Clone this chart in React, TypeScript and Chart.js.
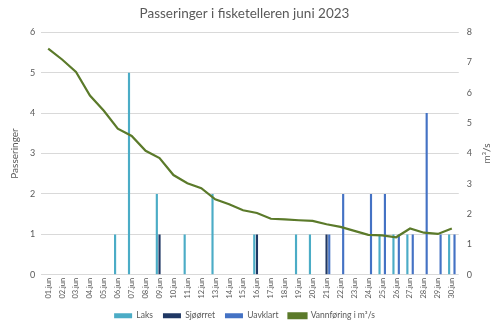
import React, { useEffect, useRef } from "react";
import { Chart, registerables } from "chart.js";

Chart.register(...registerables);

const days: string[] = [
  "01.jun","02.jun","03.jun","04.jun","05.jun","06.jun","07.jun","08.jun","09.jun","10.jun",
  "11.jun","12.jun","13.jun","14.jun","15.jun","16.jun","17.jun","18.jun","19.jun","20.jun",
  "21.jun","22.jun","23.jun","24.jun","25.jun","26.jun","27.jun","28.jun","29.jun","30.jun",
];
const laks: number[] = [0,0,0,0,0,1,5,0,2,0, 1,0,2,0,0,1,0,0,1,1, 0,0,0,0,1,1,1,0,0,1];
const sjoorret: number[] = [0,0,0,0,0,0,0,0,1,0, 0,0,0,0,0,1,0,0,0,0, 1,0,0,0,0,0,0,0,0,0];
const uavklart: number[] = [0,0,0,0,0,0,0,0,0,0, 0,0,0,0,0,0,0,0,0,0, 1,2,0,2,2,1,1,4,1,1];
const vannforing: number[] = [
  7.46,7.1,6.69,5.91,5.41,4.82,4.58,4.09,3.85,3.29,
  3.02,2.86,2.49,2.33,2.13,2.04,1.85,1.83,1.8,1.78,
  1.67,1.58,1.45,1.32,1.3,1.24,1.53,1.39,1.35,1.53,
];
const leftTicks: number[] = [0, 1, 2, 3, 4, 5, 6];
const rightTicks: number[] = [0, 1, 2, 3, 4, 5, 6, 7, 8];

const FONT = "Lato, 'Open Sans', sans-serif";
const GREY = "#595959";

const rightTitle = {
  id: "rightTitle",
  afterDraw(chart: any) {
    const ctx = chart.ctx;
    const area = chart.chartArea;
    ctx.save();
    ctx.translate(487, (area.top + area.bottom) / 2);
    ctx.rotate(-Math.PI / 2);
    ctx.fillStyle = GREY;
    ctx.font = `10px ${FONT}`;
    ctx.textAlign = "center";
    ctx.textBaseline = "middle";
    ctx.fillText("m³/s", 0, 0);
    ctx.restore();
  },
};

export default function App() {
  const ref = useRef<HTMLCanvasElement | null>(null);
  useEffect(() => {
    document.body.style.margin = "0";
    if (!ref.current) return;
    const chart = new Chart(ref.current, {
      type: "bar",
      data: {
        labels: days,
        datasets: [
          { type: "bar", label: "Laks", data: laks, backgroundColor: "#4bacc6", yAxisID: "y", order: 1, barPercentage: 0.8, categoryPercentage: 0.58 },
          { type: "bar", label: "Sjøørret", data: sjoorret, backgroundColor: "#203864", yAxisID: "y", order: 1, barPercentage: 0.8, categoryPercentage: 0.58 },
          { type: "bar", label: "Uavklart", data: uavklart, backgroundColor: "#4472c4", yAxisID: "y", order: 1, barPercentage: 0.8, categoryPercentage: 0.58 },
          { type: "line", label: "Vannføring i m³/s", data: vannforing, borderColor: "#5b7a2a", backgroundColor: "#5b7a2a", borderWidth: 2.2, pointRadius: 0, tension: 0, yAxisID: "y2", order: 0 },
        ] as any,
      },
      options: {
        animation: false,
        responsive: false,
        maintainAspectRatio: false,
        layout: { padding: { left: 9, right: 20, top: 4, bottom: -4 } },
        plugins: {
          title: {
            display: true,
            text: "Passeringer i fisketelleren juni 2023",
            color: GREY,
            font: { family: FONT, size: 13.5, weight: "normal" },
            padding: { top: 2, bottom: 10 },
          },
          legend: {
            position: "bottom",
            labels: {
              color: GREY,
              font: { family: FONT, size: 8.5 },
              boxWidth: 18,
              boxHeight: 5,
              padding: 10,
              sort: (a: any, b: any) => a.datasetIndex - b.datasetIndex,
            },
          },
          tooltip: { enabled: false },
        },
        scales: {
          x: {
            grid: { display: false, drawTicks: false },
            border: { display: false },
            ticks: { color: GREY, font: { family: FONT, size: 7.5 }, minRotation: 90, maxRotation: 90, autoSkip: false, padding: 3 },
          },
          y: {
            position: "left",
            min: 0,
            max: 6,
            afterBuildTicks: (axis: any) => { axis.ticks = leftTicks.map((v) => ({ value: v })); },
            grid: { color: "#d9d9d9", drawTicks: false },
            border: { display: false },
            ticks: { color: GREY, font: { family: FONT, size: 9 }, padding: 6 },
            title: { display: true, text: "Passeringer", color: GREY, font: { family: FONT, size: 10 }, padding: { top: 0, bottom: 3 } },
          },
          y2: {
            position: "right",
            min: 0,
            max: 8,
            afterBuildTicks: (axis: any) => { axis.ticks = rightTicks.map((v) => ({ value: v })); },
            grid: { display: false, drawTicks: false },
            border: { display: false },
            ticks: { color: GREY, font: { family: FONT, size: 9 }, padding: 8 },
          },
        },
      } as any,
      plugins: [rightTitle],
    });
    return () => chart.destroy();
  }, []);
  return (
    <div style={{ width: 500, height: 326 }}>
      <canvas ref={ref} width={500} height={326} style={{ display: "block" }} />
    </div>
  );
}
